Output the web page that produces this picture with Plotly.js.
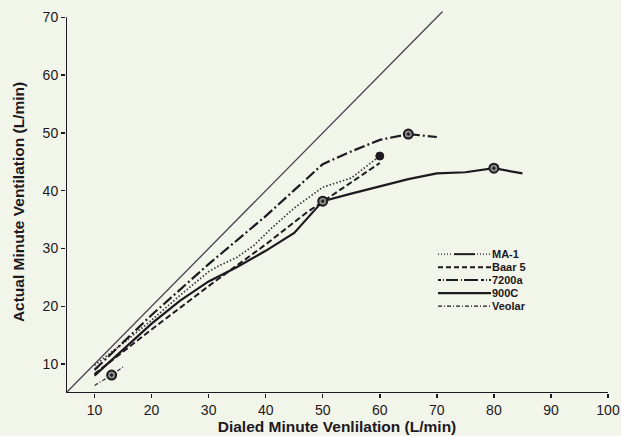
<!DOCTYPE html>
<html><head><meta charset="utf-8">
<script src="https://cdn.plot.ly/plotly-3.0.1.min.js"></script>
<style>html,body{margin:0;padding:0;background:#f2f5e9;}#chart{width:621px;height:436px;}</style>
</head><body><div id="chart"></div>
<script>
// identity line
const identityX = [5, 71];
const identityY = [5, 71];

// MA-1
const ma1X = [10, 15, 20, 25, 30, 32, 35, 38, 41, 45, 50, 55, 60];
const ma1Y = [9.8, 13.6, 17.6, 21.9, 26.0, 27.1, 28.5, 30.6, 33.5, 37.0, 40.6, 42.2, 46.0];
// Baar 5
const baarX = [10, 20, 30, 40, 47, 55, 60];
const baarY = [8.3, 16.0, 23.5, 30.7, 36.1, 41.5, 44.8];
// 7200a
const s7200X = [10, 20, 30, 40, 45, 50, 55, 60, 65, 70];
const s7200Y = [9.0, 18.5, 27.3, 35.6, 40.1, 44.6, 46.8, 48.8, 49.8, 49.3];
// 900C
const s900X = [10, 15, 20, 25, 30, 35, 40, 45, 50, 55, 60, 65, 70, 75, 80, 85];
const s900Y = [8.0, 12.5, 17.0, 21.0, 24.3, 26.8, 29.6, 32.7, 38.2, 39.5, 40.7, 42.0, 43.0, 43.2, 43.9, 43.0];
// Veolar
const veolarX = [10, 13, 15];
const veolarY = [6.3, 8.1, 9.5];

// circled points
const openMarkX = [50, 80, 65, 13];
const openMarkY = [38.2, 43.9, 49.8, 8.1];
const filledMarkX = [60];
const filledMarkY = [46.0];

const seriesNames = ["MA-1", "Baar 5", "7200a", "900C", "Veolar"];
const xTicks = [10, 20, 30, 40, 50, 60, 70, 80, 90, 100];
const yTicks = [10, 20, 30, 40, 50, 60, 70];

const ink = '#1e1820';
const traces = [
  {x: identityX, y: identityY, mode: 'lines', line: {color: '#4a4052', width: 1.3}, hoverinfo: 'skip'},
  {x: ma1X, y: ma1Y, name: seriesNames[0], mode: 'lines', line: {color: '#3a3340', width: 1.7, dash: '1.5px,2px'}},
  {x: baarX, y: baarY, name: seriesNames[1], mode: 'lines', line: {color: ink, width: 2, dash: '6px,3px'}},
  {x: s7200X, y: s7200Y, name: seriesNames[2], mode: 'lines', line: {color: ink, width: 2.2, dash: '11px,3px,2px,3px'}},
  {x: s900X, y: s900Y, name: seriesNames[3], mode: 'lines', line: {color: ink, width: 2.2}},
  {x: veolarX, y: veolarY, name: seriesNames[4], mode: 'lines', line: {color: '#3a3340', width: 1.3, dash: '4px,2px,1px,2px'}},
  {x: openMarkX, y: openMarkY, mode: 'markers', marker: {symbol: 'circle-dot', size: 9, color: '#8a8a86', line: {color: ink, width: 2}}},
  {x: filledMarkX, y: filledMarkY, mode: 'markers', marker: {symbol: 'circle', size: 8, color: ink, line: {color: ink, width: 1}}}
];

// plot area in pixels
const L = 66, R = 608, T = 10.6, B = 393;
const px2x = p => (p - L) / (R - L);
const px2y = p => (B - p) / (B - T);

const legRows = [254, 267, 280, 293, 306];
const legX0 = 438, legX1 = 491, legText = 493;
const shapes = [
  // axis lines
  {type: 'line', xref: 'x', yref: 'y', x0: 5, x1: 5, y0: 5, y1: 70, line: {color: ink, width: 2}},
  {type: 'line', xref: 'x', yref: 'y', x0: 5, x1: 100, y0: 5, y1: 5, line: {color: ink, width: 2}},
  // legend samples
  {type: 'line', xref: 'paper', yref: 'paper', x0: px2x(438), x1: px2x(452), y0: px2y(legRows[0]), y1: px2y(legRows[0]), line: {color: ink, width: 1.3, dash: '1px,2px'}},
  {type: 'line', xref: 'paper', yref: 'paper', x0: px2x(454), x1: px2x(475), y0: px2y(legRows[0]), y1: px2y(legRows[0]), line: {color: ink, width: 2}},
  {type: 'line', xref: 'paper', yref: 'paper', x0: px2x(477), x1: px2x(491), y0: px2y(legRows[0]), y1: px2y(legRows[0]), line: {color: ink, width: 1.3, dash: '1px,2px'}},
  {type: 'line', xref: 'paper', yref: 'paper', x0: px2x(legX0), x1: px2x(legX1), y0: px2y(legRows[1]), y1: px2y(legRows[1]), line: {color: ink, width: 2, dash: '5px,3px'}},
  {type: 'line', xref: 'paper', yref: 'paper', x0: px2x(legX0), x1: px2x(legX1), y0: px2y(legRows[2]), y1: px2y(legRows[2]), line: {color: ink, width: 2, dash: '3px,2px,1px,2px,12px,3px,1px,2px,14px,3px'}},
  {type: 'line', xref: 'paper', yref: 'paper', x0: px2x(legX0), x1: px2x(legX1), y0: px2y(legRows[3]), y1: px2y(legRows[3]), line: {color: ink, width: 2.2}},
  {type: 'line', xref: 'paper', yref: 'paper', x0: px2x(legX0), x1: px2x(legX1), y0: px2y(legRows[4]), y1: px2y(legRows[4]), line: {color: ink, width: 1.3, dash: '4px,2px,1px,2px'}}
];
const annotations = seriesNames.map((n, i) => ({
  xref: 'paper', yref: 'paper', x: px2x(legText), y: px2y(legRows[i]), text: '<b>' + n + '</b>',
  showarrow: false, xanchor: 'left', yanchor: 'middle', xshift: -2, borderpad: 0,
  font: {family: 'Liberation Sans, Arial, sans-serif', size: 11, color: ink}
}));

const layout = {
  width: 621, height: 436,
  margin: {l: L, r: 621 - R, t: T, b: 436 - B, pad: 0},
  paper_bgcolor: '#f2f5e9', plot_bgcolor: '#f2f5e9',
  showlegend: false,
  font: {family: 'Liberation Sans, Arial, sans-serif', color: ink, size: 14},
  xaxis: {
    range: [5, 100], tickvals: xTicks, ticktext: xTicks.map(String),
    ticks: 'outside', ticklen: 4, tickwidth: 1.5, tickcolor: ink,
    showgrid: false, zeroline: false, showline: false,
    tickfont: {size: 14, color: ink},
    title: {text: '<b>Dialed Minute Venlilation (L/min)</b>', font: {size: 15.5, color: ink}, standoff: 2}
  },
  yaxis: {
    range: [5, 71.1], tickvals: yTicks, ticktext: yTicks.map(String),
    ticks: 'outside', ticklen: 4, tickwidth: 1.5, tickcolor: ink,
    showgrid: false, zeroline: false, showline: false,
    tickfont: {size: 14, color: ink},
    title: {text: '<b>Actual Minute Ventilation (L/min)</b>', font: {size: 15.5, color: ink}, standoff: 14}
  },
  shapes: shapes,
  annotations: annotations
};
Plotly.newPlot('chart', traces, layout, {staticPlot: true, displayModeBar: false});
</script></body></html>
